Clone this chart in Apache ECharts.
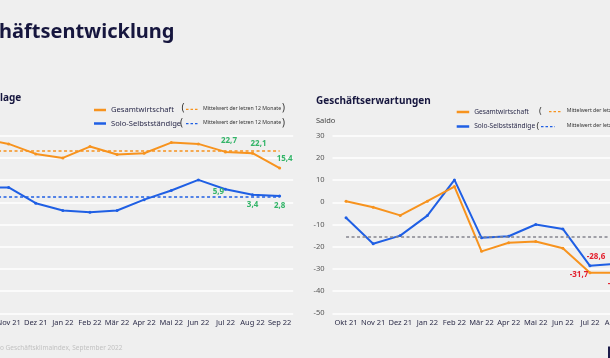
<!DOCTYPE html>
<html><head><meta charset="utf-8">
<script src="https://cdn.jsdelivr.net/npm/echarts@6/dist/echarts.min.js"></script>
<style>html,body{margin:0;padding:0;background:#efefef;overflow:hidden}#c{width:610px;height:358px}</style>
</head><body><div id="c"></div>
<script>
const categories = ['Okt 21','Nov 21','Dez 21','Jan 22','Feb 22','Mär 22','Apr 22','Mai 22','Jun 22','Jul 22','Aug 22','Sep 22'];
// Geschäftslage
const lageGesamt = [28.5, 26.3, 21.8, 20.0, 25.1, 21.5, 22.1, 26.9, 26.3, 22.7, 22.1, 15.4];
const lageSolo   = [6.7, 6.7, -0.4, -3.7, -4.5, -3.7, 1.2, 5.3, 10.1, 5.9, 3.4, 2.8];
const lageMeanGesamt = 23.1;
const lageMeanSolo = 2.3;
// Geschäftserwartungen
const erwGesamt = [0.5, -2.2, -5.9, 0.5, 7.1, -22.1, -18.2, -17.7, -20.7, -31.7, -31.8, -35.0];
const erwSolo   = [-7.0, -18.7, -15.0, -6.0, 10.1, -16.0, -15.3, -10.0, -12.0, -28.6, -27.6, -32.0];
const erwMean = -15.5;
const yTicks = {min: -50, max: 30, interval: 10};

const FONT = '"Noto Sans", sans-serif';
const ORANGE = '#f7931e', BLUE = '#1f5fe4', GREEN = '#33b468', RED = '#e3202e', NAVY = '#16163e';
const fmt = v => v.toFixed(1).replace('.', ',');

function labeled(values, offsets, color) {
  return values.map((v, i) => offsets[i] ? {
    value: v,
    label: {show: true, position: 'inside', offset: offsets[i], color: color,
      fontWeight: 'bold', fontSize: 8, fontFamily: FONT, formatter: p => fmt(p.value)}
  } : v);
}
function meanLine(value, color) {
  return {silent: true, symbol: 'none', label: {show: false},
    lineStyle: {type: [3, 2.5], width: 1.5, color: color, opacity: 1},
    emphasis: {disabled: true},
    data: [[{coord: [categories[0], value]}, {coord: [categories[categories.length - 1], value]}]]};
}
function lineSeries(name, data, color, idx, mark) {
  return {name: name, type: 'line', xAxisIndex: idx, yAxisIndex: idx, data: data,
    symbol: 'circle', symbolSize: 3, showSymbol: true,
    itemStyle: {color: color}, lineStyle: {color: color, width: 2},
    markLine: mark, z: 3};
}
function xAxis(idx) {
  return {type: 'category', gridIndex: idx, data: categories, boundaryGap: true,
    axisLine: {show: false}, axisTick: {show: false},
    axisLabel: {interval: 0, color: '#2e2e4a', fontSize: 7.5, fontFamily: FONT, margin: 6}};
}
function yAxis(idx, showLabels) {
  return {type: 'value', gridIndex: idx, min: yTicks.min, max: yTicks.max, interval: yTicks.interval,
    axisLine: {show: false}, axisTick: {show: false},
    axisLabel: {show: showLabels, color: '#555', fontSize: 7.5, fontFamily: FONT, margin: 8},
    splitLine: {lineStyle: {color: '#ffffff', width: 1.6}}};
}
function paren(x1, xd1, xd2, xt, x2, y, color, size) {
  return [
    {type: 'text', left: x1, top: y - size * 0.75, style: {text: '(', fill: '#333', font: (size + 2) + 'px ' + FONT}},
    {type: 'line', shape: {x1: xd1, y1: y, x2: xd2, y2: y}, style: {stroke: color, lineWidth: 1.3, lineDash: [2.5, 2]}},
    {type: 'text', left: xt, top: y - 3.5, style: {text: 'Mittelwert der letzen 12 Monate', fill: '#333', font: '5.2px ' + FONT}},
    {type: 'text', left: x2, top: y - size * 0.75, style: {text: ')', fill: '#333', font: (size + 2) + 'px ' + FONT}}
  ];
}

const chart = echarts.init(document.getElementById('c'), null, {renderer: 'canvas'});
chart.setOption({
  backgroundColor: '#efefef',
  animation: false,
  grid: [
    {left: -32, top: 135.7, width: 325.2, height: 177.6, outerBoundsMode: 'none', containLabel: false},
    {left: 332.5, top: 135.7, width: 325.2, height: 177.6, outerBoundsMode: 'none', containLabel: false}
  ],
  xAxis: [xAxis(0), xAxis(1)],
  yAxis: [yAxis(0, false), yAxis(1, true)],
  legend: [
    {left: 94, top: 106, padding: 0, orient: 'vertical', itemGap: 5.5, itemWidth: 12, itemHeight: 2.5, icon: 'rect',
      textStyle: {fontSize: 7.6, color: '#2b2b4b', fontFamily: FONT}, data: ['Gesamtwirtschaft', 'Solo-Selbstständige']},
    {left: 456.7, top: 108.5, padding: 0, orient: 'vertical', itemGap: 7.5, itemWidth: 12.5, itemHeight: 2.5, icon: 'rect',
      textStyle: {fontSize: 6.6, color: '#2b2b4b', fontFamily: FONT}, data: ['Gesamtwirtschaft', 'Solo-Selbstständige']}
  ],
  series: [
    lineSeries('Gesamtwirtschaft', labeled(lageGesamt, {9: [3.5, -11], 10: [6, -10], 11: [5, -9]}, GREEN), ORANGE, 0, meanLine(lageMeanGesamt, ORANGE)),
    lineSeries('Solo-Selbstständige', labeled(lageSolo, {9: [-7, 3], 10: [0, 10], 11: [0, 9.5]}, GREEN), BLUE, 0, meanLine(lageMeanSolo, BLUE)),
    lineSeries('Solo-Selbstständige', labeled(erwSolo, {9: [6, -9.5]}, RED), BLUE, 1, meanLine(erwMean, '#85858f')),
    lineSeries('Gesamtwirtschaft', labeled(erwGesamt, {9: [-11, 2], 10: [0, 11]}, RED), ORANGE, 1, undefined)
  ],
  graphic: [
    {type: 'text', left: -1, top: 22, style: {text: 'häftsentwicklung', fill: NAVY, font: 'bold 20px ' + FONT}},
    {type: 'text', left: 0, top: 93, style: {text: 'lage', fill: NAVY, font: 'bold 10px ' + FONT}},
    {type: 'text', left: 316, top: 96.5, style: {text: 'Geschäftserwartungen', fill: NAVY, font: 'bold 10px ' + FONT}},
    {type: 'text', left: 316, top: 117, style: {text: 'Saldo', fill: '#444', font: '7.5px ' + FONT}},
    {type: 'text', left: 0, top: 345, style: {text: 'o Geschäftsklimaindex, September 2022', fill: '#c2c2c2', font: '6.5px ' + FONT}},
    {type: 'rect', shape: {x: 608, y: 346.5, width: 4, height: 14}, style: {fill: '#1c1c4a'}},
    ...paren(181.5, 186, 198, 203, 282, 109.3, ORANGE, 8),
    ...paren(180, 186, 198, 203, 282, 123.7, BLUE, 8),
    ...paren(539, 549, 562, 566.7, 640, 111.7, ORANGE, 7),
    ...paren(536.5, 541, 555, 566.7, 640, 126.7, BLUE, 7)
  ]
});
</script></body></html>
